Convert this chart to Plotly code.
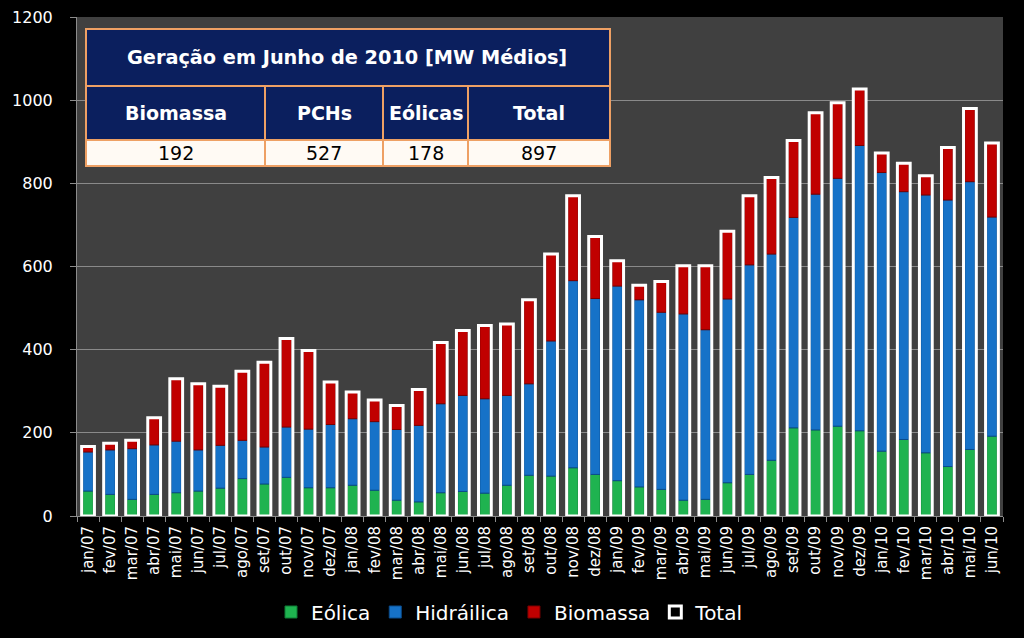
import plotly.graph_objects as go

months = ["jan/07", "fev/07", "mar/07", "abr/07", "mai/07", "jun/07", "jul/07", "ago/07",
          "set/07", "out/07", "nov/07", "dez/07",
          "jan/08", "fev/08", "mar/08", "abr/08", "mai/08", "jun/08", "jul/08", "ago/08",
          "set/08", "out/08", "nov/08", "dez/08",
          "jan/09", "fev/09", "mar/09", "abr/09", "mai/09", "jun/09", "jul/09", "ago/09",
          "set/09", "out/09", "nov/09", "dez/09",
          "jan/10", "fev/10", "mar/10", "abr/10", "mai/10", "jun/10"]

eolica = [60, 52, 40, 52, 56, 60, 67, 90, 77, 93, 68, 68,
          74, 62, 38, 34, 56, 59, 55, 74, 98, 96, 116, 100,
          85, 70, 64, 38, 40, 80, 100, 134, 212, 207, 216, 205,
          156, 184, 152, 119, 160, 192]

hidraulica = [94, 107, 122, 119, 124, 99, 103, 92, 89, 121, 141, 152,
              160, 165, 170, 184, 214, 231, 227, 216, 220, 325, 450, 423,
              468, 450, 426, 448, 408, 442, 504, 496, 506, 567, 596, 686,
              670, 596, 620, 641, 644, 527]

biomassa = [13, 16, 20, 65, 150, 159, 142, 166, 204, 213, 189, 102,
            64, 52, 58, 86, 147, 156, 176, 172, 202, 209, 204, 149,
            61, 35, 74, 116, 154, 163, 166, 184, 185, 196, 182, 136,
            47, 68, 46, 126, 176, 178]

total = [167, 175, 182, 236, 330, 318, 312, 348, 370, 427, 398, 322,
         298, 279, 266, 304, 417, 446, 458, 462, 520, 630, 770, 672,
         614, 555, 564, 602, 602, 685, 770, 814, 903, 970, 994, 1027,
         873, 848, 818, 886, 980, 897]

table_title = "Geração em Junho de 2010 [MW Médios]"
table_headers = ["Biomassa", "PCHs", "Eólicas", "Total"]
table_values = ["192", "527", "178", "897"]

y_ticks = [0, 200, 400, 600, 800, 1000, 1200]

base_hid = list(eolica)
base_bio = [e + h for e, h in zip(eolica, hidraulica)]

fig = go.Figure()
fig.add_trace(go.Bar(x=months, y=eolica, base=0, name="Eólica", width=0.46,
                     marker=dict(color="#1fb350", line=dict(color="#0e7a34", width=1))))
fig.add_trace(go.Bar(x=months, y=hidraulica, base=base_hid, name="Hidráilica", width=0.46,
                     marker=dict(color="#1672c8", line=dict(color="#0b4c8c", width=1))))
fig.add_trace(go.Bar(x=months, y=biomassa, base=base_bio, name="Biomassa", width=0.46,
                     marker=dict(color="#c00000", line=dict(color="#7a0000", width=1))))
fig.add_trace(go.Bar(x=months, y=total, base=0, name="Total", width=0.58,
                     marker=dict(color="rgba(0,0,0,0)", line=dict(color="#ffffff", width=3))))

# plot-area pixel geometry
L, R, T, B = 77, 1003, 17, 516
W, H = R - L, B - T


def px(x):
    return (x - L) / W


def py(y):
    return (B - y) / H


navy = "#0b1f5e"
orange = "#eea064"
shapes = []
annots = []
# title row
shapes.append(dict(type="rect", xref="paper", yref="paper", x0=px(86), x1=px(610),
                   y0=py(86), y1=py(29), fillcolor=navy, line=dict(color=orange, width=2)))
annots.append(dict(xref="paper", yref="paper", x=px(347), y=py(57.5), text="<b>%s</b>" % table_title,
                   showarrow=False, font=dict(family="DejaVu Sans", size=19.3, color="white"),
                   xanchor="center", yanchor="middle"))
cols = [86, 265, 383, 468, 610]
for i in range(4):
    x0, x1 = cols[i], cols[i + 1]
    shapes.append(dict(type="rect", xref="paper", yref="paper", x0=px(x0), x1=px(x1),
                       y0=py(140), y1=py(86), fillcolor=navy, line=dict(color=orange, width=2)))
    shapes.append(dict(type="rect", xref="paper", yref="paper", x0=px(x0), x1=px(x1),
                       y0=py(166), y1=py(140), fillcolor="#fffaf4", line=dict(color=orange, width=2)))
    annots.append(dict(xref="paper", yref="paper", x=px((x0 + x1) / 2), y=py(113),
                       text="<b>%s</b>" % table_headers[i], showarrow=False,
                       font=dict(family="DejaVu Sans", size=19, color="white"),
                       xanchor="center", yanchor="middle"))
    annots.append(dict(xref="paper", yref="paper", x=px((x0 + x1) / 2), y=py(153),
                       text=table_values[i], showarrow=False,
                       font=dict(family="DejaVu Sans", size=19, color="black"),
                       xanchor="center", yanchor="middle"))

fig.update_layout(
    width=1024, height=638,
    margin=dict(l=L, r=1024 - R, t=T, b=638 - B, autoexpand=False),
    paper_bgcolor="black",
    plot_bgcolor="#404040",
    barmode="overlay",
    font=dict(family="DejaVu Sans", color="white"),
    shapes=shapes,
    annotations=annots,
    legend=dict(orientation="h", x=px(510), xanchor="center", y=py(612), yanchor="middle",
                font=dict(size=20, color="white"), bgcolor="rgba(0,0,0,0)",
                traceorder="normal"),
    xaxis=dict(type="category", tickangle=-90, tickfont=dict(size=15, color="white"),
               showgrid=False, showline=True, linecolor="#8c8c8c", linewidth=1,
               ticks="outside", ticklen=5, tickcolor="#8c8c8c", tickson="boundaries",
               range=[-0.5, len(months) - 0.5], automargin=False, ticklabelstandoff=3),
    yaxis=dict(range=[0, 1200], tickvals=y_ticks, tickfont=dict(size=16, color="white"),
               showgrid=True, gridcolor="#8a8a8a", gridwidth=1,
               showline=True, linecolor="#8c8c8c", linewidth=1,
               ticks="outside", ticklen=6, tickcolor="#8c8c8c", zeroline=False,
               ticklabelstandoff=14, automargin=False),
)

fig.write_html(
    "out.html",
    config={"displayModeBar": False},
    post_script="document.body.style.margin='0';document.body.style.background='black';"
                "document.documentElement.style.overflow='hidden';",
)
